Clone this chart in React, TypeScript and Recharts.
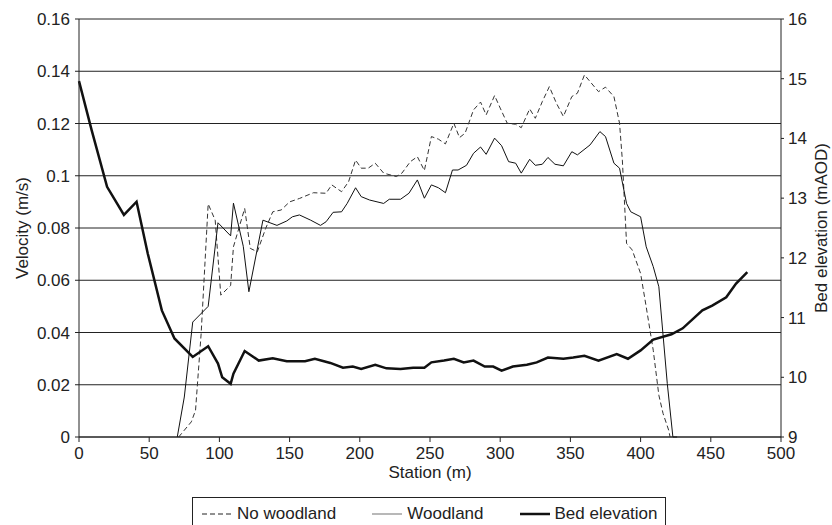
import React from 'react';
import { LineChart, Line, XAxis, YAxis, CartesianGrid } from 'recharts';

// bed elevation (mAOD) along the reach
const bedStation = [0, 9, 20, 32, 41, 49, 59, 68, 81, 92, 99, 102, 108, 110, 118, 128, 138, 148, 161, 168, 179, 188, 195, 201, 211, 219, 229, 238, 246, 251, 260, 267, 274, 281, 289, 295, 301, 309, 319, 326, 334, 345, 352, 360, 370, 383, 391, 400, 409, 422, 430, 444, 451, 461, 468, 476];
const bedElevation = [14.96, 14.14, 13.19, 12.72, 12.94, 12.07, 11.12, 10.65, 10.34, 10.52, 10.23, 10.0, 9.89, 10.06, 10.44, 10.28, 10.32, 10.27, 10.27, 10.31, 10.24, 10.16, 10.18, 10.14, 10.21, 10.15, 10.14, 10.16, 10.16, 10.25, 10.28, 10.31, 10.25, 10.28, 10.18, 10.18, 10.11, 10.18, 10.21, 10.25, 10.33, 10.31, 10.33, 10.36, 10.28, 10.39, 10.31, 10.45, 10.63, 10.72, 10.82, 11.12, 11.2, 11.34, 11.57, 11.76];

// velocity with woodland
const woodStation = [70, 75, 81, 92, 99, 108, 110, 117, 121, 131, 141, 148, 152, 157, 165, 172, 176, 181, 187, 191, 197, 201, 207, 217, 221, 229, 235, 241, 246, 251, 256, 261, 266, 270, 276, 281, 286, 290, 296, 301, 306, 311, 315, 321, 325, 330, 334, 339, 345, 351, 355, 364, 371, 375, 381, 385, 390, 393, 400, 404, 409, 413, 419, 423, 426];
const woodVelocity = [0, 0.0153, 0.044, 0.05, 0.082, 0.077, 0.0895, 0.073, 0.0556, 0.083, 0.081, 0.0827, 0.0843, 0.085, 0.083, 0.081, 0.0824, 0.086, 0.0862, 0.0894, 0.0954, 0.092, 0.0907, 0.0894, 0.091, 0.091, 0.0933, 0.0984, 0.0914, 0.0965, 0.0954, 0.0935, 0.1022, 0.1022, 0.104, 0.1086, 0.111, 0.1082, 0.1144, 0.1115, 0.1054, 0.1048, 0.101, 0.1063, 0.104, 0.1044, 0.107, 0.1044, 0.1038, 0.1092, 0.108, 0.1118, 0.1169, 0.115, 0.1048, 0.1029, 0.0894, 0.0862, 0.0843, 0.0728, 0.0652, 0.0575, 0.0205, 0, 0];

// velocity without woodland
const openStation = [71, 73, 80, 83, 87, 92, 97, 101, 108, 110, 118, 122, 127, 133, 138, 144, 150, 157, 167, 176, 180, 187, 192, 197, 201, 206, 211, 217, 226, 230, 236, 241, 246, 251, 256, 261, 267, 271, 275, 281, 286, 290, 296, 300, 305, 311, 315, 321, 325, 330, 335, 340, 345, 351, 355, 360, 370, 375, 381, 385, 387, 390, 394, 400, 404, 409, 413, 416, 420, 421];
const openVelocity = [0, 0.0013, 0.0058, 0.0102, 0.0396, 0.0892, 0.083, 0.0543, 0.058, 0.0728, 0.0875, 0.0722, 0.0709, 0.0799, 0.0862, 0.0869, 0.09, 0.0913, 0.0935, 0.0933, 0.0965, 0.0939, 0.0977, 0.106, 0.1029, 0.1029, 0.1048, 0.101, 0.0997, 0.101, 0.1054, 0.1073, 0.102, 0.115, 0.114, 0.1122, 0.1201, 0.1146, 0.1163, 0.1252, 0.1282, 0.1233, 0.1307, 0.1259, 0.1201, 0.1197, 0.1184, 0.1256, 0.122, 0.1284, 0.1341, 0.1278, 0.1227, 0.1303, 0.1316, 0.1386, 0.1322, 0.1339, 0.1303, 0.1201, 0.106, 0.0741, 0.0716, 0.0626, 0.0498, 0.0332, 0.016, 0.009, 0.0026, 0];

const stationTicks = [0, 50, 100, 150, 200, 250, 300, 350, 400, 450, 500];
const velocityTicks = [0, 0.02, 0.04, 0.06, 0.08, 0.1, 0.12, 0.14, 0.16];
const elevationTicks = [9, 10, 11, 12, 13, 14, 15, 16];

const legendItems = [
  { name: 'No woodland', dash: '5 3', width: 1, color: '#222' },
  { name: 'Woodland', dash: undefined, width: 1.2, color: '#888' },
  { name: 'Bed elevation', dash: undefined, width: 2.5, color: '#111' },
];

const font = '"Liberation Sans", Arial, sans-serif';
const ink = '#222';
const tickStyle = { fill: ink, fontSize: 17, fontFamily: font };

const bedData = bedStation.map((s, i) => ({ s, e: bedElevation[i] }));
const woodData = woodStation.map((s, i) => ({ s, v: woodVelocity[i] }));
const openData = openStation.map((s, i) => ({ s, v: openVelocity[i] }));

export default function App() {
  return (
    <div style={{ position: 'absolute', left: 0, top: 0, width: 832, height: 525, background: '#fff', fontFamily: font }}>
      <LineChart width={832} height={490} margin={{ top: 19, right: 0, bottom: 0, left: 0 }}>
        <CartesianGrid yAxisId="v" vertical={false} stroke={ink} strokeWidth={1} />
        <XAxis
          dataKey="s"
          type="number"
          domain={[0, 500]}
          ticks={stationTicks}
          height={53}
          tickSize={5}
          tickMargin={5}
          tick={tickStyle}
          stroke={ink}
          allowDuplicatedCategory={false}
          label={{ value: 'Station (m)', position: 'insideBottom', offset: 12, fill: ink, fontSize: 17, fontFamily: font }}
        />
        <YAxis
          yAxisId="v"
          domain={[0, 0.16]}
          ticks={velocityTicks}
          width={79}
          tickSize={4}
          tickMargin={5}
          tick={tickStyle}
          stroke={ink}
          label={{ value: 'Velocity (m/s)', angle: -90, position: 'insideLeft', offset: 22, fill: ink, fontSize: 17, fontFamily: font, style: { textAnchor: 'middle' } }}
        />
        <YAxis
          yAxisId="e"
          orientation="right"
          domain={[9, 16]}
          ticks={elevationTicks}
          width={51}
          tickSize={3}
          tickMargin={4}
          tick={tickStyle}
          stroke={ink}
          label={{ value: 'Bed elevation (mAOD)', angle: -90, position: 'insideRight', offset: 11, fill: ink, fontSize: 17, fontFamily: font, style: { textAnchor: 'middle' } }}
        />
        <Line yAxisId="v" data={openData} dataKey="v" type="linear" stroke="#333" strokeWidth={1} strokeDasharray="5 3" dot={false} isAnimationActive={false} />
        <Line yAxisId="v" data={woodData} dataKey="v" type="linear" stroke="#111" strokeWidth={1} dot={false} isAnimationActive={false} />
        <Line yAxisId="e" data={bedData} dataKey="e" type="linear" stroke="#111" strokeWidth={2.5} dot={false} isAnimationActive={false} />
      </LineChart>
      <div
        style={{
          position: 'absolute',
          left: 192,
          top: 497,
          width: 474,
          height: 40,
          border: `1px solid ${ink}`,
          display: 'flex',
          alignItems: 'flex-start',
          paddingLeft: 9,
          boxSizing: 'border-box',
          color: ink,
          fontSize: 17,
        }}
      >
        {legendItems.map((item, i) => (
          <div key={item.name} style={{ display: 'flex', alignItems: 'center', marginTop: 6, marginRight: i < 2 ? 36 : 0 }}>
            <svg width={30} height={10} style={{ marginRight: 5 }}>
              <line x1={0} y1={5} x2={30} y2={5} stroke={item.color} strokeWidth={item.width} strokeDasharray={item.dash} />
            </svg>
            <span>{item.name}</span>
          </div>
        ))}
      </div>
    </div>
  );
}
